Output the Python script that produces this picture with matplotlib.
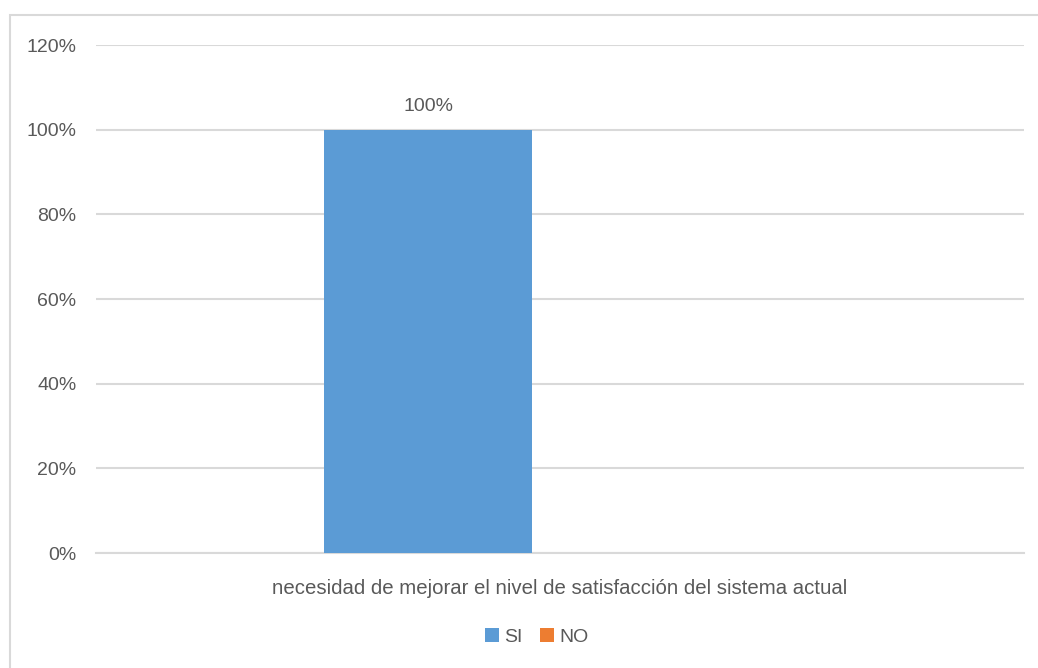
import matplotlib.pyplot as plt
from matplotlib.patches import Rectangle

categoria = "necesidad de mejorar el nivel de satisfacción del sistema actual"
series = ["SI", "NO"]
valores = [1.00, 0.00]
colores = ["#5b9bd5", "#ed7d31"]
yticks = [0, 0.2, 0.4, 0.6, 0.8, 1.0, 1.2]

plt.rcParams['font.family'] = ['Liberation Sans Narrow', 'Liberation Sans', 'DejaVu Sans']
gris = "#595959"

fig = plt.figure(figsize=(10.38, 6.68), dpi=100)
ax = fig.add_axes([96/1038, 1 - 553/668, (1024 - 96)/1038, (553 - 45)/668])

# chart border (cut off at right and bottom like the original)
fig.patches.append(Rectangle((10/1038, -0.1), 1.2, 1 - 15/668 + 0.1,
                             transform=fig.transFigure, fill=False,
                             edgecolor="#d9d9d9", linewidth=1.5))

for i, (s, v, c) in enumerate(zip(series, valores, colores)):
    ax.bar(i, v, width=1.0, color=c, label=s, zorder=3)
    if v > 0:
        ax.text(i, v + 0.035, f"{v:.0%}", ha="center", va="bottom",
                fontsize=14, color=gris)

ax.set_ylim(0, 1.2)
ax.set_xlim(-1.596, 2.865)
ax.set_yticks(yticks)
ax.set_yticklabels([f"{t:.0%}" for t in yticks], fontsize=14, color=gris)
ax.set_xticks([(ax.get_xlim()[0] + ax.get_xlim()[1]) / 2])
ax.set_xticklabels([categoria], fontsize=14.7, color=gris)
ax.tick_params(length=0)
ax.tick_params(axis="y", pad=14)
ax.tick_params(axis="x", pad=19)
ax.yaxis.grid(True, color="#d9d9d9", linewidth=1.5, zorder=0)
for sp in ["top", "right", "left"]:
    ax.spines[sp].set_visible(False)
ax.spines["bottom"].set_color("#d9d9d9")
ax.spines["bottom"].set_linewidth(1.5)

leg = fig.legend(loc="center", bbox_to_anchor=(537/1038, 1 - 637/668), ncol=2,
                 frameon=False, fontsize=14, handlelength=0.7, handleheight=0.7,
                 handletextpad=0.3, columnspacing=0.9)
for t in leg.get_texts():
    t.set_color(gris)

fig.savefig("out.png", dpi=100)
